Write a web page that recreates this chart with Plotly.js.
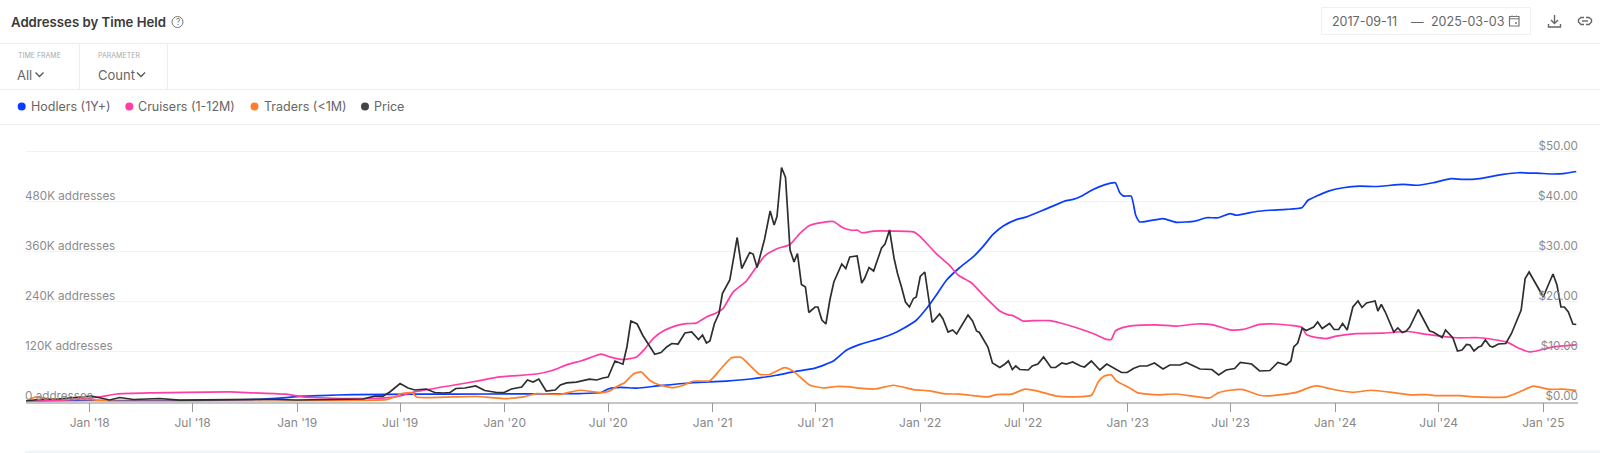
<!DOCTYPE html>
<html><head><meta charset="utf-8">
<script src="https://cdn.plot.ly/plotly-3.0.1.min.js"></script>
<style>html,body{margin:0;padding:0;background:#fff;overflow:hidden}#c{width:1600px;height:453px}</style>
</head><body><div id="c"></div>
<script>
// weeks since the first date, and values
const startDate = '2017-09-11';
const endDate = '2025-03-03';
const seriesNames = ['Hodlers (1Y+)', 'Cruisers (1-12M)', 'Traders (<1M)', 'Price'];
const hodlerWeeks = [0,16,40,57,65.5,69.7,74,82.3,99,115.8,132.5,139.2,144.7,146.3,149.3,153.5,159.3,167.7,176.1,182,188.6,192.8,198.3,202.9,206.2,209.6,214.6,218,220.5,223.8,226.3,228.8,231.4,234.7,238.1,240.6,243.1,245.6,249,251.5,255.7,261.1,263.2,265.3,268.2,271.1,273.8,274.9,275.9,277.8,278.9,279.9,285.8,289.2,293.8,296.7,299.6,302.6,304.2,309.2,312.6,316.8,320.6,322.2,324.3,327.3,331,335.2,339.4,346.1,349.9,353.6,358.2,361.2,365.4,371.2,375,379.6,383.8,386.3,389.6];
const hodlerK = [0.5,2,2,4.7,9.5,12.7,14.3,16.7,17.5,18,18.5,19,21.5,30,34,32,38,45,49,54,63,71,80,97,123,137,151,163,175,195,223,255,291,321,347,373,401,421,437,443,459,481,485,493,509,520,525,501,493,493,447,431,439,430,433,441,441,451,447,456,459,461,465,483,493,505,513,517,516,521,519,525,535,533,535,545,549,548,546,547,552];
const cruiserWeeks = [0,10,18.6,22.8,32,40.4,51.3,57,65.5,69.7,74,85,93,97.8,107.4,113.3,119.1,128.3,132.5,135.9,140,144.7,146.8,150.1,153.5,155.6,157.6,160.2,163.1,166,168.5,171,173.6,175.2,177.8,181.1,183.6,185.7,188.6,192,194.5,197,200.4,202.9,205.4,207.5,209,210,213,218,223,224.7,228.8,232.2,234.3,237.6,240.6,244.8,246.9,248.1,250.6,253.1,257.3,259.8,264,268.2,271.6,272.8,273.8,274.9,278.3,284.1,289.2,294.2,298.4,302.6,305.9,310.1,313.9,317.6,320.6,321.8,323.5,326.8,329.4,334.4,341.1,347.4,352,359.5,365.4,372,375.4,377.9,380.4,383.8,389.6];
const cruiserK = [0,4,11,18,20.7,22,23,20.7,17.5,11,9,7,11,23,39,48.7,59,66,75,88,99,113.5,107,100.7,107,127,151,169,181,187,188,203,213,223,263,289,323,349,366,377,403,423,430,432,417,411,411,405,409,409,407,397,355,326,303,285,255,217,208,206,193,194,194,189,177,163,149,149,169,175,182,184,181,186,184,172,173,185,186,183,178,161,155,151,157,163,164,168,161,153,153,143,127,119,123,131,136];
const traderWeeks = [0,2.7,6,10,16.5,21,40,60,74,90.6,92.7,94.4,97,98.2,100.7,107.4,113.3,120,125,128.3,134.2,139.2,144.7,146.8,148.9,150.5,152.6,154.7,156.8,158.9,162.7,165.2,167.7,171.9,174.4,177.3,179.8,182.4,184.4,186.9,190.7,192.8,197,200.8,203.7,207.1,209.6,213.3,218,223,227.2,230.5,234.7,237.2,241.8,243.9,247.7,251,254,259,262.3,267.8,269.5,270.9,272.8,274.1,277.4,279.5,284.5,289.2,297.5,299.6,302.6,305.9,310.1,312.6,319.3,322.6,324.7,328.1,333.5,338.1,343.6,347.8,352,354.5,360.3,364.5,372,375.4,378.8,380,382.5,386.3,389.6];
const traderK = [1,11,6,5,4.7,1,0.5,0.5,1.5,4.7,11,19,21,11,9.5,11,12,7,11,19,17,27,21.5,25.5,38,45,65.5,71,51,40.7,33.5,39,48.7,50,75,105,106,83,65.5,64.7,81.5,73.5,39,32.7,36,35,32,30,39,28.7,25.5,19,17.5,15,11,16.7,17.5,29.5,25.5,12.7,11,15,47,60.7,64,49.5,32.7,20.7,16,18,8.7,20.7,27,28.7,15,13.5,22,34,37.5,30,22,27,21.5,16,16.7,14,14,11,11,23,36.7,35,29.5,29.5,26];
const priceWeeks = [0,3,8,16.5,21,23.6,27,33.7,38.7,46,55,60.5,68,74,84.8,87.7,89.8,91.5,94,96.1,97.8,100.7,102.8,104.9,106.6,108.1,110.3,113.1,115.4,118.3,120.2,122.1,124.6,126,127.5,128.9,130.8,133,134.4,135.9,138.4,141.7,143.5,145.1,146.3,148,150,151,152,153.6,155.1,156.4,158,159.7,161,162.3,163.9,165.6,167.3,169,170,171,171.9,173.1,174.2,175,176.9,178.8,179.9,181.9,182.8,183.8,185.7,187,188,188.8,189.9,190.9,192,193,193.9,194.9,195.9,196.8,198.3,199.1,200.1,201,202,203,205,206,207,208.9,210,210.8,211.9,213.1,215,215.9,217,218.2,219,220.1,221,222,223,223.8,224.8,225.9,227.8,229.7,230.5,231.8,232.9,233.9,235.1,236.8,237.9,238.9,239.7,241.8,242.9,244.8,246,246.9,247.9,248.8,249.8,251.9,252.9,254.4,255.8,257.7,258.8,260.3,261.5,263,265,266.1,267.8,269.9,271.7,273.2,275.3,276.8,278.4,279.9,281.8,283.7,285.8,287.5,290,291.7,293.3,295,298,299.8,301.7,303.8,305.2,308,310.1,312.6,314.7,316.8,317.9,318.6,319.7,320.8,321.8,323.7,324.7,325.8,327.7,328.8,329.9,330.9,332,333.5,334.8,335.8,336.9,339,339.8,340.7,341.7,343.8,344.8,345.9,346.9,347.8,349.9,351.1,352.8,353.6,355.9,356.8,358.7,359.8,360.9,362,362.9,363.9,365,365.8,366.8,367.9,368.7,370,371.9,373.3,374.7,375.8,376.8,377.8,379.6,381.3,382.1,383.8,384.8,385.8,386.7,387.7,388.8,389.6];
const priceUsd = [0.1,0.4,0.5,1.1,0.3,0.8,0.4,0.6,0.26,0.3,0.3,0.45,0.3,0.4,0.5,1.06,1.06,1.9,3.6,2.7,2.3,2.5,1.8,1.7,1.8,2.6,2.7,3.1,2.2,1.8,1.8,2.5,2.9,4.3,3.9,4.5,2.1,2.3,3.3,3.73,3.86,4.46,4.3,4.7,4.9,8.1,7.46,10.9,16.1,15.5,13.2,11.6,9.46,9.8,10.9,11.6,11.5,13.7,13.9,12.4,13.3,11.7,12.1,15.6,17.6,21.6,24.3,32.8,26.6,29.8,29.5,26.8,32.4,38.1,35.3,37,46.8,44.8,30.3,27.9,29.6,23.4,22.9,17.8,18.9,18.9,16.3,15.5,20.3,23.9,27.5,26.6,28.9,29.1,23.7,24.6,26.8,26.1,30.7,31.5,34.3,28.6,25.6,22.9,19.9,18.9,20.6,20.9,25,25.9,15.8,17.5,16.5,13.9,14.3,13.5,15,17.3,16.1,14.1,13.8,10.9,7.7,6.8,7.5,8.1,6.4,7.1,6.4,6.3,7.1,7.5,8.9,6.8,6.8,7.7,7.5,7.9,7.1,6.9,8.1,6.3,7.5,6.8,5.8,5.8,6.6,7.1,7.1,7.7,6.5,7.3,7.3,7.8,7.1,6.5,6.4,5.3,6.3,6.6,7.8,7.5,6.1,6.2,7.8,7.3,8.1,10.9,11.7,14.7,14.2,14.9,15.9,14.6,15.6,14.4,14.4,15.6,14.3,18.9,20.1,18.8,19.7,20.1,18.1,19.4,17.9,13.9,14.7,13.8,14.1,14.9,18.4,16.6,14.1,13.9,12.8,14.3,12.7,10.1,10.3,11.4,11.3,10.1,10.9,11.1,12.3,11.1,10.9,11.5,11.6,13.6,15.9,18.3,24.6,25.9,23.3,20.9,22.3,25.5,23.3,18.9,18.9,17.9,15.5,15.4];
const tickDates = ['2018-01-01','2018-07-01','2019-01-01','2019-07-01','2020-01-01','2020-07-01','2021-01-01','2021-07-01','2022-01-01','2022-07-01','2023-01-01','2023-07-01','2024-01-01','2024-07-01','2025-01-01'];
const tickLabels = ["Jan '18","Jul '18","Jan '19","Jul '19","Jan '20","Jul '20","Jan '21","Jul '21","Jan '22","Jul '22","Jan '23","Jul '23","Jan '24","Jul '24","Jan '25"];
const addressTicks = [0,120000,240000,360000,480000,600000];
const addressLabels = ['0 addresses','120K addresses','240K addresses','360K addresses','480K addresses',''];
const priceTicks = [0,10,20,30,40,50];
const priceLabels = ['$0.00','$10.00','$20.00','$30.00','$40.00','$50.00'];

const W = 1600, H = 453;
const PX = x => x / W, PY = y => 1 - y / H;
const startMs = Date.parse(startDate + 'T00:00:00Z');
const toDates = weeks => weeks.map(w => new Date(startMs + w * 7 * 864e5).toISOString().slice(0, 10));
const FONT = 'Inter, "Noto Sans", sans-serif';
const colors = ['#0a3cff', '#ff3da6', '#ff7f2a', '#2e2e2e'];

const line = (weeks, vals, i, axis, shape) => ({
  type: 'scatter', mode: 'lines', name: seriesNames[i], x: toDates(weeks), y: vals, yaxis: axis,
  line: {color: colors[i], width: 1.7, shape: shape, smoothing: 0.5}, showlegend: false, hoverinfo: 'x+y+name'
});
const traces = [
  line(hodlerWeeks, hodlerK.map(v => v * 1000), 0, 'y', 'spline'),
  line(cruiserWeeks, cruiserK.map(v => v * 1000), 1, 'y', 'spline'),
  line(traderWeeks, traderK.map(v => v * 1000), 2, 'y', 'spline'),
  line(priceWeeks, priceUsd, 3, 'y2', 'linear')
];

// ---- page furniture in page pixels ----
const rule = (x0, y0, x1, y1, c) => ({type: 'line', xref: 'paper', yref: 'paper', x0: PX(x0), x1: PX(x1), y0: PY(y0), y1: PY(y1), line: {color: c || '#eeeeee', width: 1}});
const dot = (cx, cy, r, c) => ({type: 'circle', xref: 'paper', yref: 'paper', x0: PX(cx - r), x1: PX(cx + r), y0: PY(cy - r), y1: PY(cy + r), fillcolor: c, line: {width: 0}});
const pathOf = (pts, c, w, close) => ({type: 'path', xref: 'paper', yref: 'paper',
  path: pts.map((p, i) => (i ? 'L' : 'M') + PX(p[0]) + ',' + PY(p[1])).join(' ') + (close ? ' Z' : ''),
  line: {color: c, width: w}});
const label = (text, x, y, size, color, anchor, weight) => ({text, x: PX(x), y: PY(y), xref: 'paper', yref: 'paper', xanchor: anchor || 'left', yanchor: 'middle', showarrow: false, borderpad: 0,
  font: {family: FONT, size, color, weight: weight || 400}});

const shapes = [
  rule(0, 43.5, W, 43.5), rule(0, 89.5, W, 89.5), rule(0, 124.5, W, 124.5),
  rule(79.5, 43.5, 79.5, 89.5), rule(167.5, 43.5, 167.5, 89.5),
  {type: 'rect', xref: 'paper', yref: 'paper', x0: PX(25), x1: PX(W), y0: PY(453), y1: PY(450.5), fillcolor: '#eef6fb', line: {width: 0}},
  {type: 'rect', xref: 'paper', yref: 'paper', x0: PX(1321.5), x1: PX(1530.5), y0: PY(34.5), y1: PY(7.5), fillcolor: 'rgba(0,0,0,0)', line: {color: '#f0f0f0', width: 1}},
  {type: 'circle', xref: 'paper', yref: 'paper', x0: PX(172), x1: PX(183), y0: PY(27.5), y1: PY(16.5), fillcolor: 'rgba(0,0,0,0)', line: {color: '#777', width: 1}},
  pathOf([[35.5, 72.5], [39.5, 76.5], [43.5, 72.5]], '#555', 1.3),
  pathOf([[137, 72.5], [141, 76.5], [145, 72.5]], '#555', 1.3),
  dot(21.7, 106.5, 4, colors[0]), dot(129.3, 106.5, 4, colors[1]), dot(254.5, 106.5, 4, colors[2]), dot(365, 106.5, 4, '#444'),
  // calendar
  {type: 'rect', xref: 'paper', yref: 'paper', x0: PX(1509.5), x1: PX(1519), y0: PY(26), y1: PY(16.5), fillcolor: 'rgba(0,0,0,0)', line: {color: '#777', width: 1.2}},
  rule(1509.5, 18.8, 1519, 18.8, '#777'),
  rule(1512, 15.5, 1512, 17, '#777'), rule(1516.5, 15.5, 1516.5, 17, '#777'),
  dot(1516, 23, 1, '#777'),
  // download
  pathOf([[1554.5, 15], [1554.5, 23]], '#666', 1.4),
  pathOf([[1551, 20], [1554.5, 23.5], [1558, 20]], '#666', 1.4),
  pathOf([[1548.5, 24], [1548.5, 27], [1560.5, 27], [1560.5, 24]], '#666', 1.4),
  // link
  pathOf([[1584, 17.5], [1581, 17.5], [1578.5, 19.5], [1578.5, 22], [1581, 24.5], [1584, 24.5]], '#666', 1.4),
  pathOf([[1586, 17.5], [1589, 17.5], [1591.5, 19.5], [1591.5, 22], [1589, 24.5], [1586, 24.5]], '#666', 1.4),
  pathOf([[1582, 21], [1588, 21]], '#666', 1.4)
];
const annotations = [
  label('Addresses by Time Held', 9.5, 22, 13.2, '#3a3a3a', 'left', 600),
  label('?', 177.5, 22, 8.5, '#777', 'center'),
  label('TIME FRAME', 16.5, 55.5, 7, '#aaaaaa'),
  label('PARAMETER', 97, 55.5, 7, '#aaaaaa'),
  label('All', 16, 75, 13, '#666'),
  label('Count', 97, 75, 13, '#666'),
  label('2017-09-11', 1331, 21.5, 12.5, '#666'),
  label('—', 1410, 21.5, 12.5, '#666'),
  label('2025-03-03', 1430, 21.5, 12.5, '#666'),
  label(seriesNames[0], 29.5, 106.5, 12.5, '#666'),
  label(seriesNames[1], 137, 106.5, 12.5, '#666'),
  label(seriesNames[2].replace('<', '&lt;'), 262.5, 106.5, 12.5, '#666'),
  label(seriesNames[3], 373, 106.5, 12.5, '#666')
];

const yDomain = [PY(401.5), PY(141.5)];
const layout = {
  width: W, height: H, autosize: false, paper_bgcolor: '#fff', plot_bgcolor: '#fff',
  margin: {l: 0, r: 0, t: 0, b: 0, pad: 0}, showlegend: false, hovermode: 'x unified',
  font: {family: FONT, color: '#888'},
  xaxis: {type: 'date', domain: [PX(26), PX(1578)], range: [startDate, endDate], tickmode: 'array', tickvals: tickDates, ticktext: tickLabels,
    ticks: 'outside', ticklen: 9, tickwidth: 1, tickcolor: '#999', showgrid: false, zeroline: false, showline: true, linecolor: '#c4c4c4', linewidth: 1.5,
    tickfont: {family: FONT, size: 12, color: '#888'}, automargin: false, tickangle: 0},
  yaxis: {domain: yDomain, range: [0, 624000], anchor: 'free', position: PX(24), side: 'right', tickmode: 'array', tickvals: addressTicks, ticktext: addressLabels,
    ticklabelshift: -6, ticks: '', showgrid: true, gridcolor: '#f2f2f2', gridwidth: 1.4, zeroline: false, showline: false,
    tickfont: {family: FONT, size: 11.7, color: '#8c8c8c'}, automargin: false},
  yaxis2: {domain: yDomain, range: [0, 52], overlaying: 'y', anchor: 'free', position: PX(1578), side: 'left', tickmode: 'array', tickvals: priceTicks, ticktext: priceLabels,
    ticklabelshift: -6, ticks: '', showgrid: false, zeroline: false, showline: false,
    tickfont: {family: FONT, size: 11.7, color: '#8c8c8c'}, automargin: false},
  shapes, annotations
};
Plotly.newPlot('c', traces, layout, {displayModeBar: false, responsive: false});
</script></body></html>
